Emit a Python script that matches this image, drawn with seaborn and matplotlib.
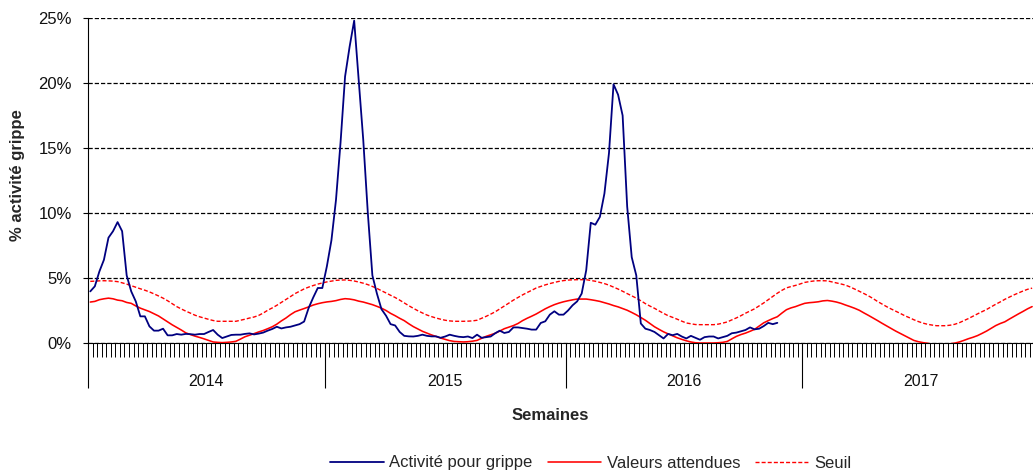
import numpy as np
import pandas as pd
import matplotlib
matplotlib.use("Agg")
import matplotlib.pyplot as plt
import seaborn as sns
from matplotlib.ticker import MultipleLocator, FixedLocator, FuncFormatter

# ---------------- data ----------------
years = ["2014", "2015", "2016", "2017"]
weeks_per_year = [52, 53, 52, 52]
y_ticks = [0, 5, 10, 15, 20, 25]

# % activité grippe (weekly, from week 1 of 2014)
activite = [
    3.97, 4.36, 5.5, 6.4, 8.1, 8.6, 9.3, 8.6, 5.2, 3.97, 3.2, 2.05, 2.05,
    1.28, 0.95, 0.95, 1.1, 0.59, 0.59, 0.69, 0.64, 0.7, 0.68, 0.64, 0.69, 0.69,
    0.85, 1.0, 0.64, 0.38, 0.5, 0.62, 0.64, 0.64, 0.7, 0.74, 0.66, 0.72, 0.8,
    0.95, 1.08, 1.25, 1.12, 1.2, 1.25, 1.35, 1.45, 1.65, 2.7, 3.5, 4.23, 4.23,
    5.9, 7.9, 11.0, 15.4, 20.5, 22.8, 24.8, 20.2, 15.6, 10.0, 5.2, 3.8, 2.6,
    2.1, 1.45, 1.35, 0.85, 0.55, 0.51, 0.5, 0.55, 0.64, 0.55, 0.51, 0.51, 0.4,
    0.5, 0.64, 0.55, 0.48, 0.45, 0.5, 0.38, 0.64, 0.4, 0.45, 0.5, 0.75, 0.95,
    0.77, 0.85, 1.2, 1.2, 1.15, 1.1, 1.03, 1.03, 1.54, 1.67, 2.18, 2.44, 2.18,
    2.18,
    2.5, 2.9, 3.2, 3.8, 5.6, 9.25, 9.1, 9.7, 11.5, 14.6, 19.9, 19.1, 17.5,
    10.5, 6.6, 5.2, 1.5, 1.1, 1.0, 0.85, 0.6, 0.35, 0.7, 0.6, 0.7, 0.5,
    0.35, 0.55, 0.4, 0.25, 0.45, 0.5, 0.5, 0.35, 0.45, 0.55, 0.75, 0.8, 0.9,
    1.0, 1.2, 1.05, 1.1, 1.3, 1.55, 1.45, 1.55,
]

# Valeurs attendues
attendues = [
    3.15, 3.2, 3.33, 3.4, 3.45, 3.4, 3.3, 3.25, 3.12, 3.05, 2.85, 2.68, 2.55,
    2.42, 2.25, 2.08, 1.85, 1.62, 1.4, 1.2, 1.0, 0.78, 0.65, 0.53, 0.43, 0.32,
    0.2, 0.08, 0.05, 0.03, 0.05, 0.08, 0.13, 0.3, 0.48, 0.6, 0.72, 0.85, 0.96,
    1.1, 1.25, 1.45, 1.7, 1.92, 2.18, 2.4, 2.53, 2.65, 2.78, 2.92, 3.02, 3.1,
    3.16, 3.2, 3.26, 3.35, 3.41, 3.38, 3.32, 3.22, 3.15, 3.05, 2.95, 2.82, 2.68,
    2.5, 2.28, 2.1, 1.9, 1.72, 1.48, 1.26, 1.08, 0.9, 0.76, 0.62, 0.5, 0.38,
    0.28, 0.18, 0.12, 0.1, 0.08, 0.1, 0.14, 0.2, 0.36, 0.51, 0.63, 0.75, 0.92,
    1.1, 1.22, 1.34, 1.5, 1.72, 1.9, 2.06, 2.23, 2.43, 2.63, 2.8, 2.95, 3.07,
    3.17,
    3.25, 3.32, 3.38, 3.38, 3.38, 3.33, 3.27, 3.2, 3.1, 3.0, 2.88, 2.78, 2.65,
    2.52, 2.35, 2.17, 1.96, 1.75, 1.5, 1.25, 1.05, 0.86, 0.7, 0.55, 0.4, 0.28,
    0.17, 0.08, 0.02, 0.0, 0.0, 0.0, 0.0, 0.02, 0.05, 0.12, 0.32, 0.51, 0.65,
    0.76, 0.9, 1.05, 1.3, 1.55, 1.72, 1.88, 2.02, 2.3, 2.56, 2.7, 2.8, 2.93,
    3.05, 3.1, 3.13, 3.17, 3.24, 3.27, 3.22, 3.15, 3.05, 2.92, 2.8, 2.67, 2.52,
    2.32, 2.13, 1.93, 1.73, 1.52, 1.32, 1.12, 0.92, 0.74, 0.56, 0.38, 0.2, 0.1,
    0.03, -0.02, -0.1, -0.15, -0.15, -0.12, -0.06, -0.01, 0.08, 0.2, 0.33, 0.44, 0.57,
    0.74, 0.92, 1.13, 1.34, 1.5, 1.63, 1.84, 2.04, 2.24, 2.43, 2.63, 2.8,
]

# Seuil
seuil = [
    4.74, 4.76, 4.78, 4.79, 4.78, 4.76, 4.72, 4.63, 4.53, 4.41, 4.29, 4.17, 4.06,
    3.93, 3.78, 3.62, 3.45, 3.25, 3.02, 2.8, 2.62, 2.45, 2.3, 2.14, 2.02, 1.92,
    1.82, 1.73, 1.67, 1.67, 1.67, 1.67, 1.67, 1.75, 1.83, 1.92, 2.0, 2.12, 2.3,
    2.52, 2.7, 2.9, 3.12, 3.33, 3.57, 3.8, 3.98, 4.16, 4.3, 4.42, 4.53, 4.62,
    4.7, 4.76, 4.82, 4.84, 4.85, 4.82, 4.77, 4.69, 4.6, 4.49, 4.35, 4.2, 4.02,
    3.85, 3.67, 3.5, 3.3, 3.08, 2.87, 2.67, 2.48, 2.31, 2.15, 2.03, 1.92, 1.83,
    1.75, 1.7, 1.67, 1.67, 1.67, 1.68, 1.7, 1.75, 1.9, 2.05, 2.22, 2.4, 2.62,
    2.85, 3.07, 3.3, 3.5, 3.7, 3.88, 4.05, 4.23, 4.35, 4.47, 4.57, 4.66, 4.74,
    4.8,
    4.84, 4.86, 4.87, 4.87, 4.87, 4.81, 4.75, 4.66, 4.57, 4.45, 4.3, 4.15, 3.98,
    3.8, 3.63, 3.45, 3.25, 3.03, 2.84, 2.67, 2.47, 2.28, 2.1, 1.97, 1.83, 1.68,
    1.54, 1.48, 1.42, 1.41, 1.41, 1.41, 1.41, 1.45, 1.53, 1.62, 1.78, 1.93, 2.1,
    2.29, 2.46, 2.63, 2.85, 3.08, 3.33, 3.58, 3.83, 4.05, 4.24, 4.34, 4.43, 4.54,
    4.66, 4.72, 4.77, 4.79, 4.79, 4.78, 4.7, 4.62, 4.54, 4.45, 4.31, 4.15, 3.98,
    3.81, 3.63, 3.43, 3.2, 3.0, 2.8, 2.62, 2.45, 2.28, 2.1, 1.95, 1.79, 1.65,
    1.53, 1.44, 1.38, 1.33, 1.33, 1.33, 1.37, 1.44, 1.56, 1.72, 1.88, 2.06, 2.24,
    2.41, 2.58, 2.78, 2.98, 3.16, 3.36, 3.53, 3.7, 3.85, 4.0, 4.13, 4.22,
]

# ---------------- frame ----------------
def series(name, values):
    return pd.DataFrame({"semaine": np.arange(len(values)) + 0.5,
                         "valeur": values, "serie": name})

df_act = series("Activité pour grippe", activite)
df_att = series("Valeurs attendues", attendues)
df_seu = series("Seuil", seuil)

sns.set_style("white")
plt.rcParams["font.family"] = ["Liberation Sans", "DejaVu Sans"]

W, H = 1033, 475
fig = plt.figure(figsize=(W / 100, H / 100), dpi=100)
ax = fig.add_axes([88 / W, 132 / H, 945 / W, 325 / H])

sns.lineplot(data=df_act, x="semaine", y="valeur", ax=ax, color="#000080",
             linewidth=1.3, label="Activité pour grippe", zorder=4)
sns.lineplot(data=df_att, x="semaine", y="valeur", ax=ax, color="#FF0000",
             linewidth=1.15, label="Valeurs attendues", zorder=3)
sns.lineplot(data=df_seu, x="semaine", y="valeur", ax=ax, color="#FF0000",
             linewidth=1.0, linestyle=(0, (2.9, 1.5)), label="Seuil", zorder=3)

handles, labels = ax.get_legend_handles_labels()
ax.get_legend().remove()

# axes limits / spines
ax.set_ylim(0, 25)
ax.set_xlim(0, 945 / 4.55)
for s in ["top", "right"]:
    ax.spines[s].set_visible(False)
for s in ["left", "bottom"]:
    ax.spines[s].set_color("black")
    ax.spines[s].set_linewidth(0.8)

# y axis
ax.yaxis.set_major_locator(FixedLocator(y_ticks))
ax.yaxis.set_major_formatter(FuncFormatter(lambda v, p: f"{int(v)}%"))
ax.tick_params(axis="y", which="major", left=True, length=3.6, width=0.8,
               color="black", pad=8, labelsize=12, labelcolor="#111111")
ax.yaxis.grid(True, color="black", linewidth=0.9, linestyle=(0, (3.4, 1.6)))
ax.xaxis.grid(False)

# x axis: weekly ticks, long year separators
bounds = np.concatenate([[0], np.cumsum(weeks_per_year)])
ax.xaxis.set_major_locator(FixedLocator(bounds))
ax.xaxis.set_minor_locator(MultipleLocator(1))
ax.set_xticklabels([])
ax.tick_params(axis="x", which="major", bottom=True, length=32.4, width=0.8,
               color="black", direction="out")
ax.tick_params(axis="x", which="minor", bottom=True, length=10, width=0.7,
               color="black", direction="out")
ax.set_xlabel("")
ax.set_ylabel("")

for i, yr in enumerate(years):
    center = (bounds[i] + bounds[i + 1]) / 2
    ax.annotate(yr, xy=(center, 0), xycoords=("data", "axes fraction"),
                xytext=(0, -27.5), textcoords="offset points",
                ha="center", va="center", fontsize=11.5, color="#111111",
                annotation_clip=False)

fig.text(550 / W, 1 - 416 / H, "Semaines", ha="center", va="center",
         fontsize=12, fontweight="bold")
fig.text(18 / W, 1 - 175 / H, "% activité grippe", ha="center", va="center",
         rotation=90, fontsize=12, fontweight="bold")

fig.legend(handles, labels, loc="center", bbox_to_anchor=(591 / W, 12 / H),
           ncol=3, frameon=False, fontsize=12, handlelength=3.2,
           handletextpad=0.35, columnspacing=0.9)

fig.savefig("out.png", dpi=100, facecolor="white")
